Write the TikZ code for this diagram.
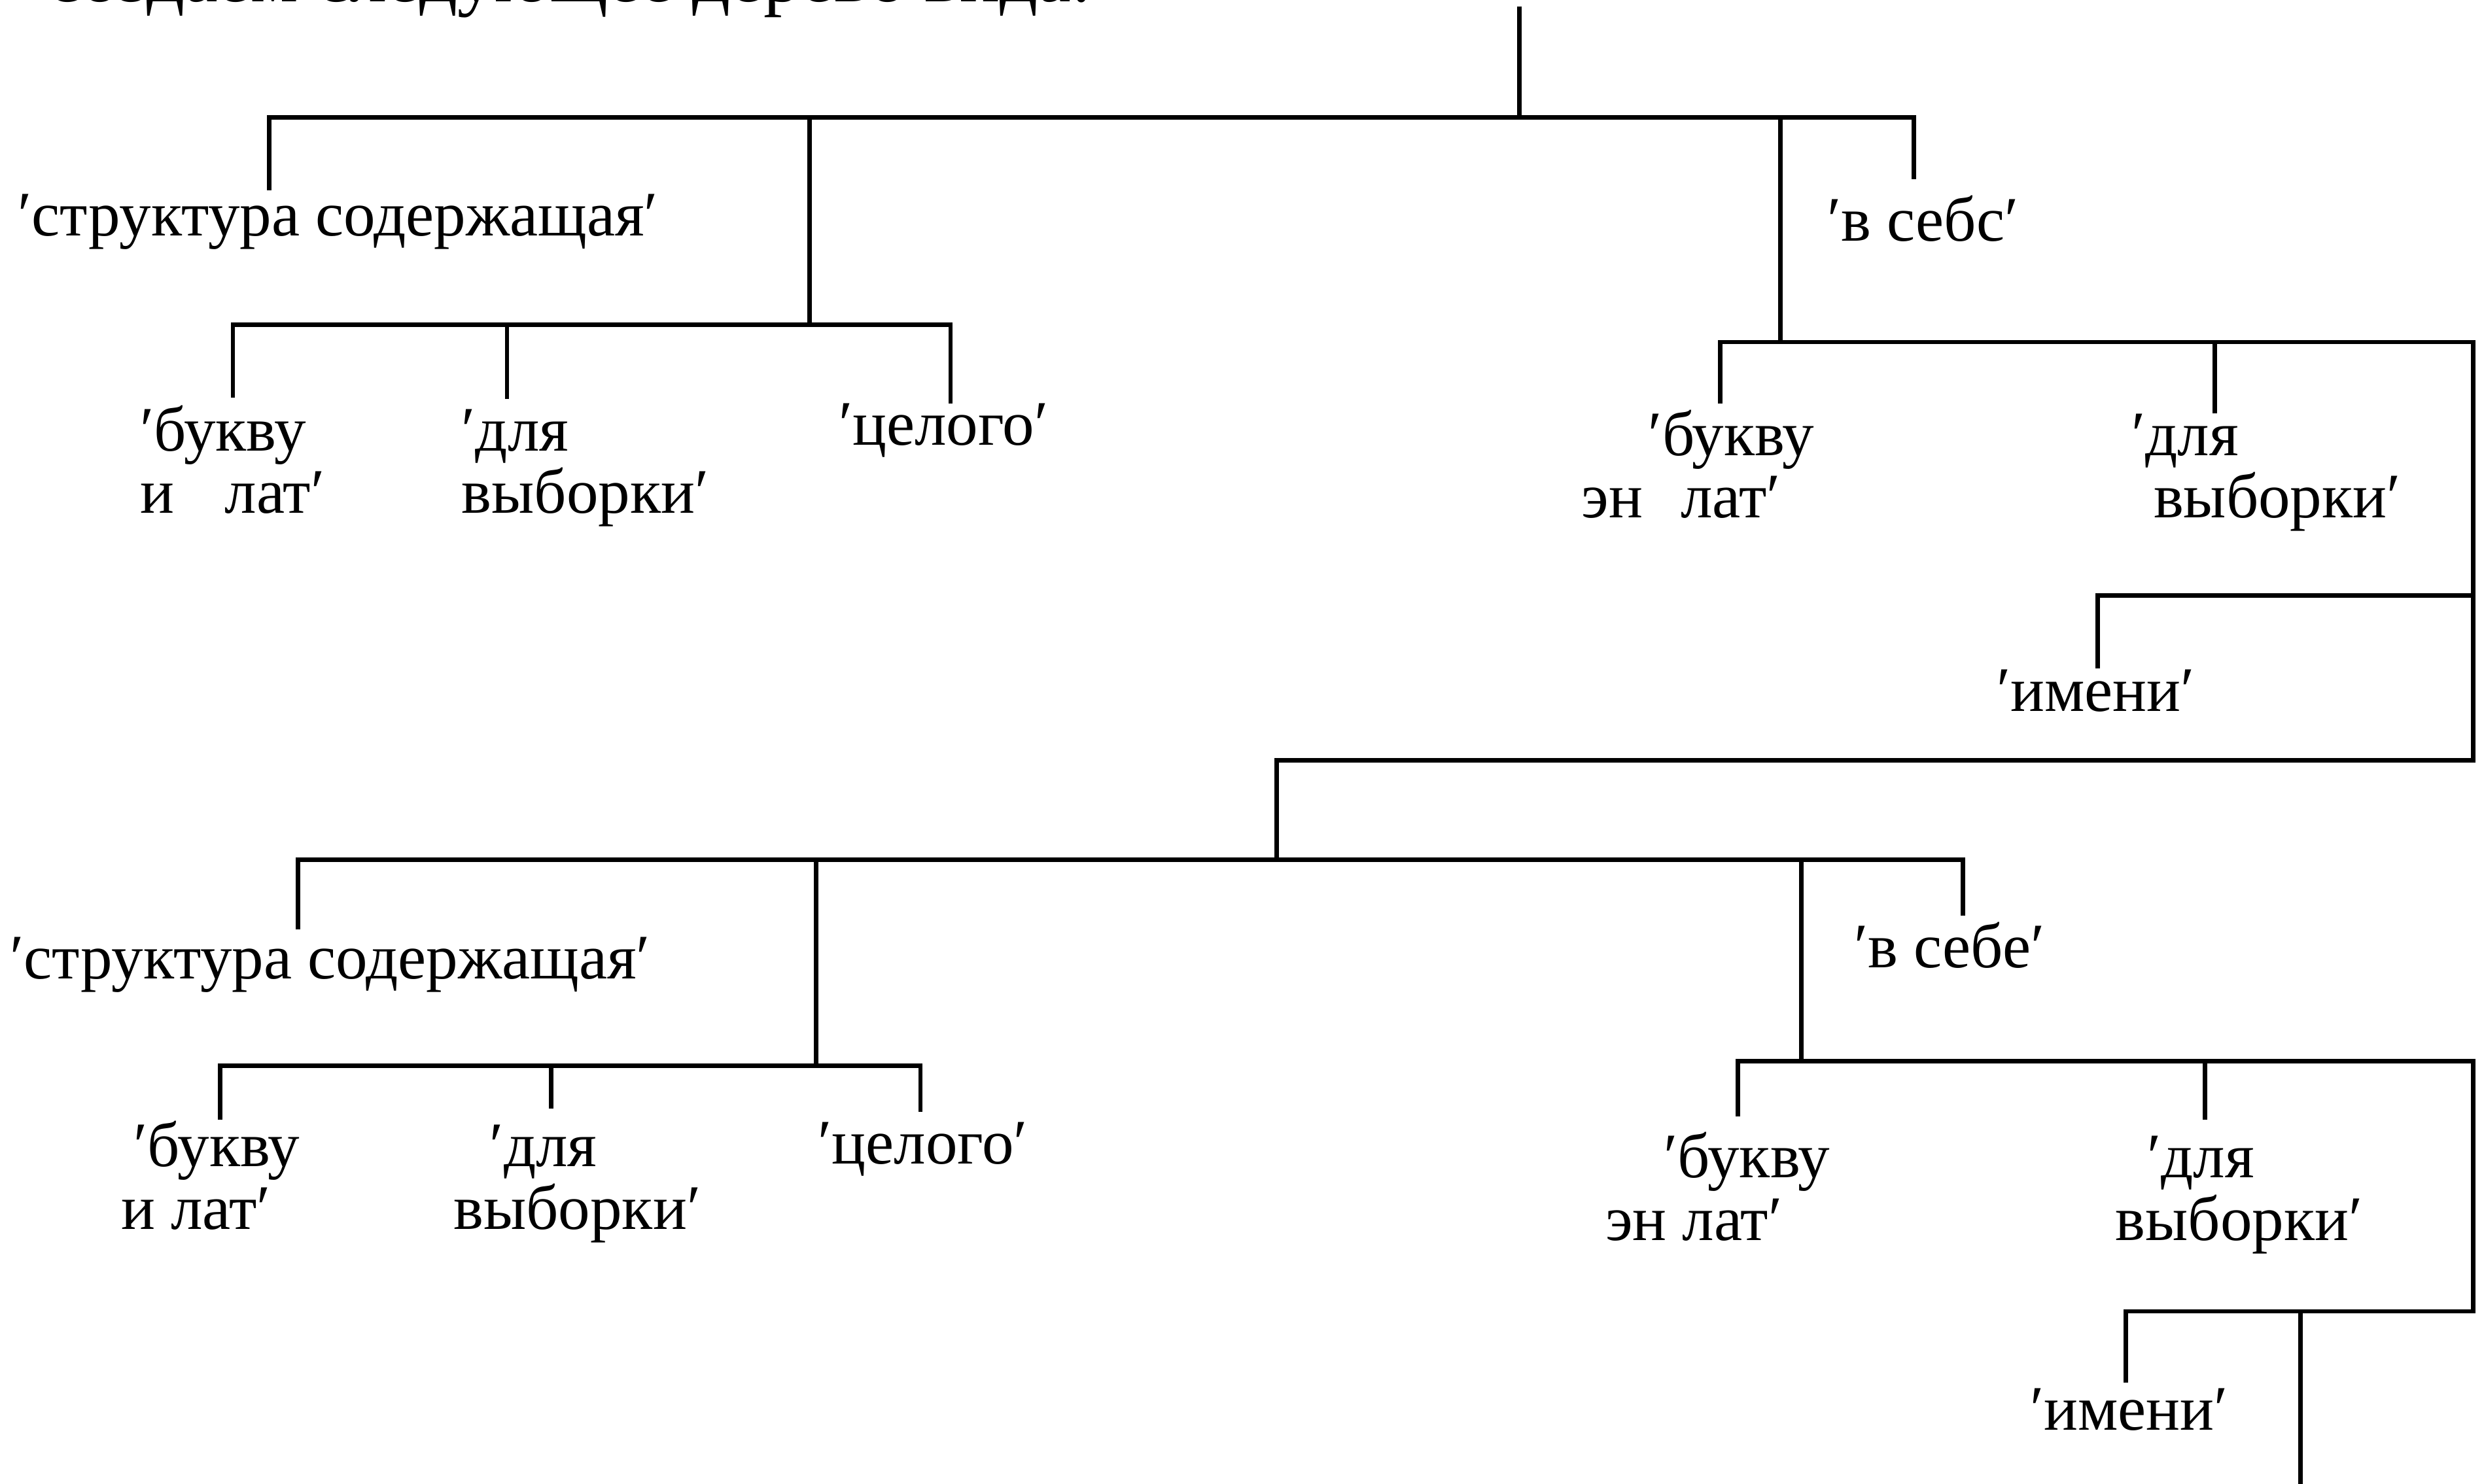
\documentclass[tikz,border=0pt]{standalone}
\usepackage{fontspec}
\setmainfont{Liberation Serif}
\begin{document}
\begin{tikzpicture}[line width=0.8pt,
  lbl/.style={anchor=base west,inner sep=0pt,align=left,font=\fontsize{11.4pt}{11.2pt}\selectfont}]
\useasboundingbox (0,0) rectangle (15.68,-9.366);
% line of text above the tree, cut by the page
\node[lbl,font=\fontsize{13.4pt}{16pt}\selectfont] (head) at (0.29,-0.012) {создаем следующее дерево вида:};
% first tree
\node[lbl] (s1) at (0.10,-1.49) {′структура содержащая′};
\node[lbl] (v1) at (11.52,-1.52) {′в себс′};
\node[lbl] (b1) at (0.87,-3.24) {′букву\\и\hspace{0.8em}лат′};
\node[lbl] (d1) at (2.90,-3.24) {′для\\выборки′};
\node[lbl] (c1) at (5.28,-2.81) {′целого′};
\node[lbl] (b2) at (9.97,-3.27) {\hspace{12pt}′букву\\эн\hspace{0.6em}лат′};
\node[lbl] (d2) at (13.44,-3.27) {′для\\\hspace{4pt}выборки′};
\node[lbl] (i1) at (12.59,-4.49) {′имени′};
% second tree
\node[lbl] (s2) at (0.05,-6.18) {′структура содержащая′};
\node[lbl] (v2) at (11.69,-6.11) {′в себе′};
\node[lbl] (b3) at (0.75,-7.76) {\hspace{2.3pt}′букву\\и лат′};
\node[lbl] (d3) at (2.85,-7.76) {\hspace{6.5pt}′для\\выборки′};
\node[lbl] (c2) at (5.15,-7.35) {′целого′};
\node[lbl] (b4) at (10.12,-7.83) {\hspace{10.5pt}′букву\\эн лат′};
\node[lbl] (d4) at (13.34,-7.83) {\hspace{5.7pt}′для\\выборки′};
\node[lbl] (i2) at (12.80,-9.03) {′имени′};
% junctions and corners
\coordinate (root) at (9.59,-0.04);
\coordinate (j1) at (9.59,-0.74);
\coordinate (j2L) at (5.11,-2.05);
\coordinate (j2R) at (11.24,-2.16);
\coordinate (e1) at (15.61,-2.16);
\coordinate (f1) at (15.61,-3.76);
\coordinate (e2) at (15.61,-4.80);
\coordinate (j4) at (8.06,-5.43);
\coordinate (j5L) at (5.15,-6.73);
\coordinate (j5R) at (11.37,-6.70);
\coordinate (e3) at (15.61,-6.70);
\coordinate (e4) at (15.61,-8.28);
\coordinate (tail) at (14.52,-9.40);
% ends of the drops above the labels
\coordinate (s1t) at (1.70,-1.20);
\coordinate (v1t) at (12.08,-1.13);
\coordinate (b1t) at (1.47,-2.51);
\coordinate (d1t) at (3.20,-2.52);
\coordinate (c1t) at (6.00,-2.55);
\coordinate (b2t) at (10.86,-2.55);
\coordinate (d2t) at (13.98,-2.61);
\coordinate (i1t) at (13.24,-4.22);
\coordinate (s2t) at (1.88,-5.87);
\coordinate (v2t) at (12.39,-5.78);
\coordinate (b3t) at (1.39,-7.07);
\coordinate (d3t) at (3.48,-7.00);
\coordinate (c2t) at (5.81,-7.02);
\coordinate (b4t) at (10.97,-7.05);
\coordinate (d4t) at (13.92,-7.07);
\coordinate (i2t) at (13.42,-8.73);
% first tree
\draw (root) -- (j1);
\draw (s1t) |- (j1) -| (v1t);
\draw (j2L) -- (j2L |- j1);
\draw (j2R) -- (j2R |- j1);
\draw (b1t) |- (j2L) -| (c1t);
\draw (d1t) -- (d1t |- j2L);
\draw (b2t) |- (e1) -- (e2) -| (j4);
\draw (d2t) -- (d2t |- e1);
\draw (i1t) |- (f1);
% second tree
\draw (s2t) |- (j4) -| (v2t);
\draw (j5L) -- (j5L |- j4);
\draw (j5R) -- (j5R |- j4);
\draw (b3t) |- (j5L) -| (c2t);
\draw (d3t) -- (d3t |- j5L);
\draw (b4t) |- (e3) -- (e4) -| (i2t);
\draw (d4t) -- (d4t |- e3);
\draw (tail) -- (tail |- e4);
\end{tikzpicture}
\end{document}
